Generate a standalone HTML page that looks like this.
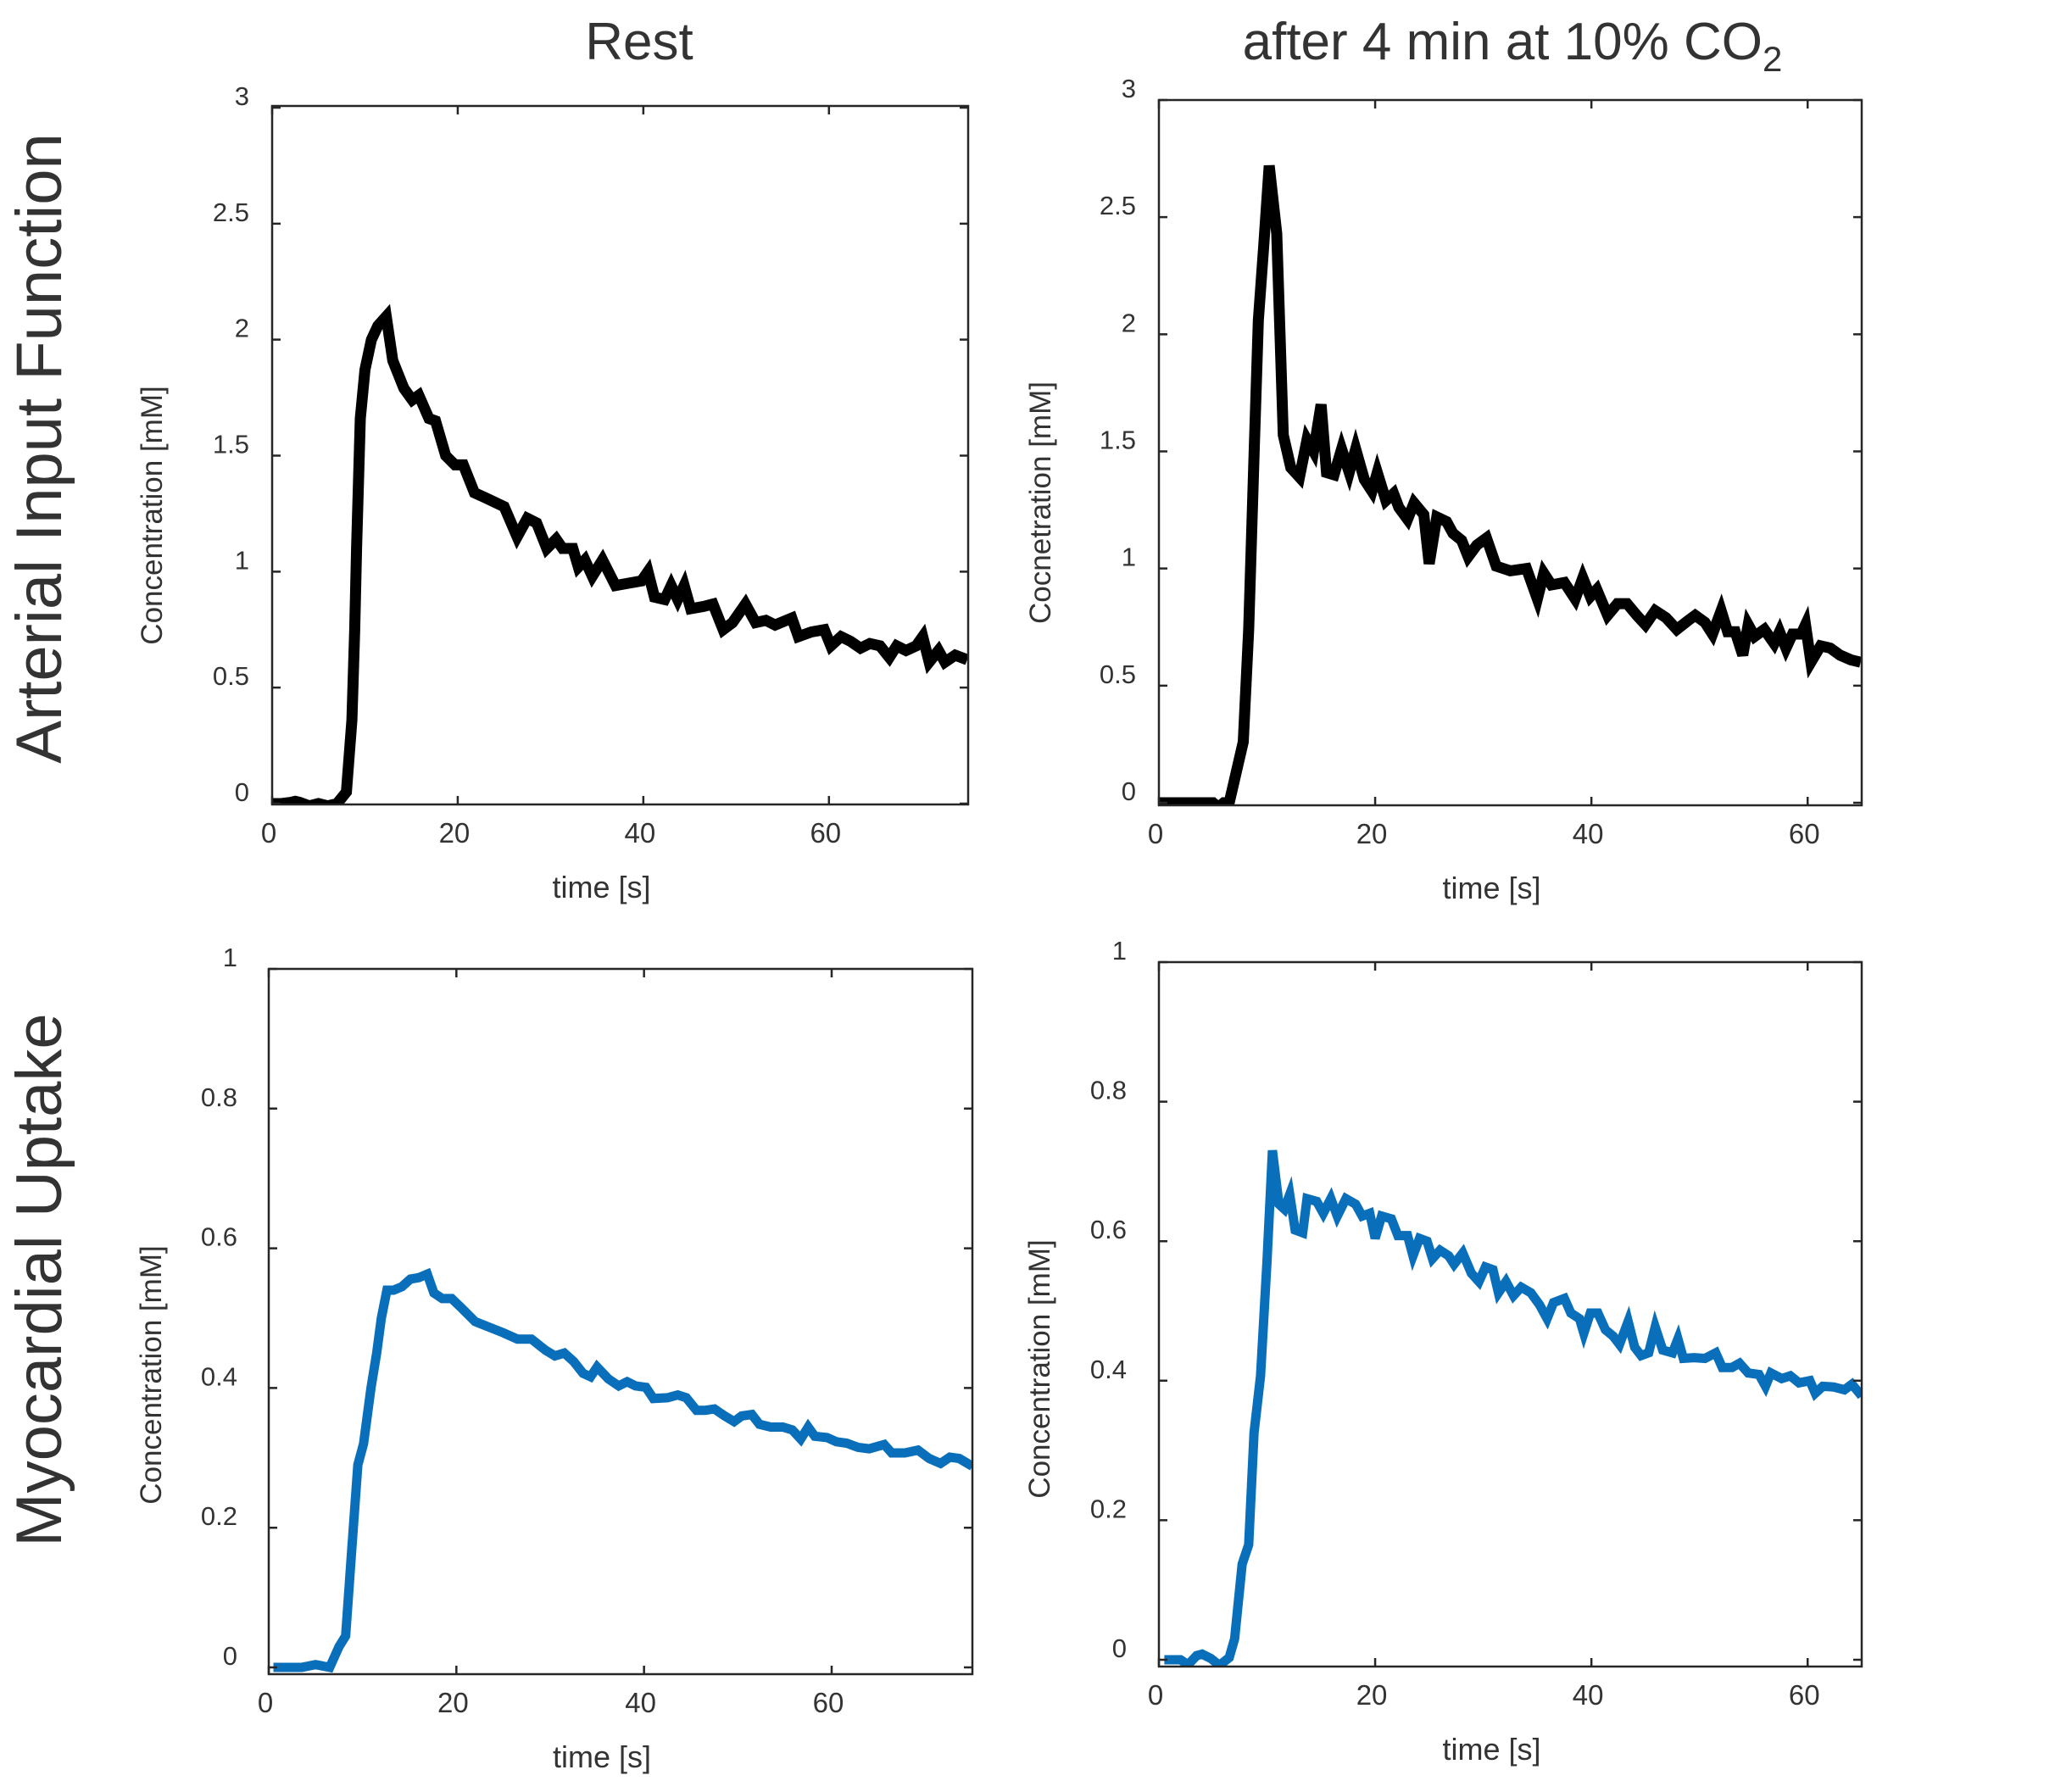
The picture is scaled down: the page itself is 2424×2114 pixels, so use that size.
<!DOCTYPE html>
<html><head><meta charset="utf-8"><style>
html,body{margin:0;padding:0;background:#fff}
svg{display:block}
text{font-family:"Liberation Sans",sans-serif;fill:#333}
</style></head><body>
<svg id="fig" width="2424" height="2114" viewBox="0 0 2424 2114" xmlns="http://www.w3.org/2000/svg">
<text x="754" y="70" font-size="62" text-anchor="middle" fill="#000">Rest</text>
<text x="1784" y="70" font-size="62" text-anchor="middle" fill="#000">after 4 min at 10% CO<tspan font-size="42" dy="14">2</tspan></text>
<text transform="translate(72,529) rotate(-90)" font-size="76" text-anchor="middle" fill="#000">Arterial Input Function</text>
<text transform="translate(72,1510) rotate(-90)" font-size="76" text-anchor="middle" fill="#000">Myocardial Uptake</text>
</svg>
<script>
const restAifTime=[0,1,2,2.5,3,4,5,6,7,8,8.6,8.9,9.1,9.5,10,10.7,11.4,12.3,13,14.2,15.1,15.8,16.9,17.6,18.7,19.7,20.6,21.8,22.9,25,26.4,27.5,28.5,29.6,30.6,31.3,32.4,33,33.7,34.5,35.6,37,38.4,39.8,40.5,41.2,42.3,43,43.7,44.4,45.1,46.5,47.5,48.6,49.6,51,52.1,53.2,54.2,56,56.7,58.1,59.5,60.2,61.3,62.3,63.4,64.4,65.5,66.5,67.3,68.3,69.4,70.1,70.8,71.8,72.5,73.6,74.9];
const restAifConc=[0,0,0.005,0.01,0.005,-0.01,0,-0.01,0,0.05,0.36,0.75,1.1,1.66,1.87,2.0,2.06,2.1,1.91,1.79,1.74,1.76,1.66,1.65,1.5,1.46,1.46,1.34,1.32,1.28,1.15,1.23,1.21,1.10,1.14,1.10,1.10,1.02,1.05,0.98,1.05,0.94,0.95,0.96,1.0,0.89,0.88,0.94,0.88,0.94,0.84,0.85,0.86,0.75,0.78,0.86,0.78,0.79,0.77,0.80,0.72,0.74,0.75,0.68,0.72,0.70,0.67,0.69,0.68,0.63,0.68,0.66,0.68,0.72,0.61,0.66,0.61,0.64,0.62];
const co2AifTime=[0,1,2,3,4,5,5.5,6,6.5,7,7.8,8.3,8.8,9.2,9.7,10.2,10.9,11.5,12.2,13,13.7,14.3,15,15.5,16.2,16.9,17.6,18.2,19,19.7,20.2,21,21.7,22.2,23,23.6,24.5,25,25.7,26.6,27.2,28,28.6,29.4,30.3,31.2,32.5,34,35,35.6,36.3,37.5,38.5,39.2,39.9,40.5,41.5,42.4,43.3,44.2,45,45.9,46.9,47.9,49,49.6,50.5,51.2,52,52.6,53.3,54,54.5,55.1,56,56.9,57.4,58,58.6,59.4,59.8,60.3,61.2,62.1,63,64,64.9];
const co2AifConc=[0,0,0,0,0,0,-0.02,0,0,0.1,0.26,0.74,1.48,2.06,2.38,2.72,2.43,1.57,1.43,1.39,1.55,1.5,1.70,1.41,1.40,1.51,1.41,1.51,1.38,1.33,1.41,1.29,1.32,1.26,1.21,1.28,1.23,1.02,1.22,1.20,1.15,1.12,1.05,1.10,1.13,1.01,0.99,1.0,0.87,0.98,0.93,0.94,0.87,0.96,0.88,0.91,0.80,0.85,0.85,0.80,0.76,0.82,0.79,0.74,0.78,0.80,0.77,0.72,0.82,0.73,0.73,0.63,0.76,0.71,0.74,0.68,0.73,0.66,0.72,0.72,0.76,0.60,0.67,0.66,0.63,0.61,0.60];
const restMyoTime=[0.5,2,3.5,5,6.5,7.5,8.2,8.8,9.5,10.1,10.9,11.5,12,12.6,13.3,14.2,15.1,16,16.9,17.6,18.5,19.5,20.5,22,23.5,25,26.5,28,29.5,30.5,31.5,32.5,33.5,34.3,35,36.2,37.3,38.2,39.1,40.2,41,42.5,43.6,44.5,45.6,46.5,47.5,48.6,49.6,50.4,51.5,52.3,53.5,54.8,55.8,56.7,57.5,58.2,59.5,60.5,61.6,62.8,64,65.6,66.4,67.8,69.2,70.4,71.6,72.6,73.6,75];
const restMyoConc=[0,0,0,0.004,0,0.03,0.045,0.16,0.29,0.32,0.40,0.45,0.50,0.54,0.54,0.545,0.556,0.558,0.563,0.536,0.528,0.528,0.515,0.495,0.487,0.479,0.47,0.47,0.454,0.446,0.45,0.438,0.421,0.416,0.43,0.413,0.403,0.409,0.403,0.401,0.385,0.386,0.39,0.386,0.368,0.368,0.37,0.36,0.352,0.36,0.362,0.348,0.344,0.344,0.34,0.327,0.344,0.331,0.329,0.323,0.321,0.315,0.313,0.319,0.307,0.307,0.311,0.299,0.292,0.301,0.299,0.288];
const co2MyoTime=[0.5,2,2.7,3.5,4,4.8,5.6,6.5,7,7.7,8.3,8.8,9.4,10,10.5,11.1,11.6,12.1,12.6,13.3,13.7,14.6,15.2,15.9,16.5,17.3,18.2,18.8,19.5,20,20.6,21.5,22.1,23,23.5,24.1,24.8,25.3,26,26.8,27.3,28.1,28.9,29.6,30.2,30.9,31.4,32.1,32.8,33.5,34.4,35.2,35.9,36.5,37.5,38.1,38.9,39.3,39.9,40.6,41.3,42,42.6,43.4,44,44.6,45.3,45.9,46.6,47.5,48,48.5,49.5,50.5,51.5,52.1,53,53.7,54.5,55.5,56.1,56.6,57.6,58.4,59.2,60.2,60.7,61.4,62.4,63.4,64.1,65];
const co2MyoConc=[0,0,-0.007,0.006,0.008,0.002,-0.008,0.003,0.03,0.137,0.165,0.325,0.407,0.571,0.73,0.653,0.646,0.667,0.616,0.612,0.661,0.657,0.64,0.661,0.636,0.661,0.653,0.636,0.64,0.604,0.636,0.632,0.608,0.608,0.579,0.604,0.6,0.575,0.587,0.579,0.567,0.583,0.554,0.542,0.563,0.559,0.526,0.542,0.522,0.534,0.526,0.509,0.489,0.512,0.518,0.497,0.489,0.468,0.497,0.497,0.473,0.464,0.452,0.485,0.448,0.436,0.44,0.477,0.444,0.44,0.46,0.432,0.433,0.432,0.44,0.419,0.419,0.425,0.411,0.409,0.392,0.411,0.403,0.407,0.397,0.40,0.382,0.392,0.391,0.387,0.395,0.378];
const aifYTicks=[0,0.5,1,1.5,2,2.5,3];
const aifYTickLabels=["0","0.5","1","1.5","2","2.5","3"];
const myoYTicks=[0,0.2,0.4,0.6,0.8,1];
const myoYTickLabels=["0","0.2","0.4","0.6","0.8","1"];
const xTicks=[0,20,40,60];
const xTickLabels=["0","20","40","60"];

const NS="http://www.w3.org/2000/svg";
const svg=document.getElementById('fig');
function mk(tag,attrs,parent){const e=document.createElementNS(NS,tag);for(const k in attrs)e.setAttribute(k,attrs[k]);(parent||svg).appendChild(e);return e;}

const panels=[
 {key:'rest-aif',L:321,R:1142,T:125,B:949,xmax:75,ymax:3,y0px:948,y1px:127,t:restAifTime,c:restAifConc,yt:aifYTicks,yl:aifYTickLabels,color:'#000',lw:13,ylabel:'Concentration [mM]',ylx:179,yly:608,labGap:27},
 {key:'co2-aif',L:1367,R:2196,T:118,B:950,xmax:65,ymax:3,y0px:947,y1px:118,t:co2AifTime,c:co2AifConc,yt:aifYTicks,yl:aifYTickLabels,color:'#000',lw:13,ylabel:'Cocnetration [mM]',ylx:1227,yly:593,labGap:27},
 {key:'rest-myo',L:317,R:1147,T:1143,B:1975,xmax:75,ymax:1,y0px:1967,y1px:1143,t:restMyoTime,c:restMyoConc,yt:myoYTicks,yl:myoYTickLabels,color:'#0a6fba',lw:11,ylabel:'Concentration [mM]',ylx:178,yly:1622,labGap:37},
 {key:'co2-myo',L:1367,R:2196,T:1135,B:1966,xmax:65,ymax:1,y0px:1958,y1px:1135,t:co2MyoTime,c:co2MyoConc,yt:myoYTicks,yl:myoYTickLabels,color:'#0a6fba',lw:11,ylabel:'Concentration [mM]',ylx:1226,yly:1615,labGap:38}
];

panels.forEach(p=>{
  const g=mk('g',{});
  
  
  const xs=v=>p.L+(p.R-p.L)*v/p.xmax;
  const ys=v=>p.y0px+(p.y1px-p.y0px)*v/p.ymax;
  let d='';
  for(let i=0;i<p.t.length;i++){d+=(i?'L':'M')+xs(p.t[i]).toFixed(1)+' '+ys(p.c[i]).toFixed(1);}
  const clip=mk('clipPath',{id:'clip-'+p.key},g);
  mk('rect',{x:p.L,y:p.T-40,width:p.R-p.L,height:p.B-p.T+40},clip);
  const line=mk('path',{d:d,fill:'none',stroke:p.color,'stroke-width':p.lw,'stroke-linejoin':'miter','stroke-miterlimit':4,'clip-path':'url(#clip-'+p.key+')'},g);
  
  
  const box=mk('rect',{x:p.L,y:p.T,width:p.R-p.L,height:p.B-p.T,fill:'none',stroke:'#262626','stroke-width':2.5},g);
  
  
  p.yt.forEach((v,i)=>{
    const y=ys(v);
    const tk=mk('path',{d:`M${p.L} ${y}h10M${p.R} ${y}h-10`,stroke:'#262626','stroke-width':2.5},g);
    
    
    const tl=mk('text',{x:p.L-p.labGap,y:y-3,'font-size':31,'text-anchor':'end'},g);
    tl.textContent=p.yl[i];
    
    
  });
  xTicks.forEach((v,i)=>{
    const x=xs(v);
    const tk=mk('path',{d:`M${x} ${p.B}v-10M${x} ${p.T}v10`,stroke:'#262626','stroke-width':2.5},g);
    
    
    const tl=mk('text',{x:x-4,y:p.B+45,'font-size':33,'text-anchor':'middle'},g);
    tl.textContent=xTickLabels[i];
    
    
  });
  const xl=mk('text',{x:(p.L+p.R)/2-22,y:p.B+110,'font-size':36,'text-anchor':'middle'},g);
  xl.textContent='time [s]';
  
  
  const yl=mk('text',{transform:`translate(${p.ylx+12},${p.yly}) rotate(-90)`,'font-size':35,'text-anchor':'middle'},g);
  yl.textContent=p.ylabel;
  
  
});
</script>
</body></html>
